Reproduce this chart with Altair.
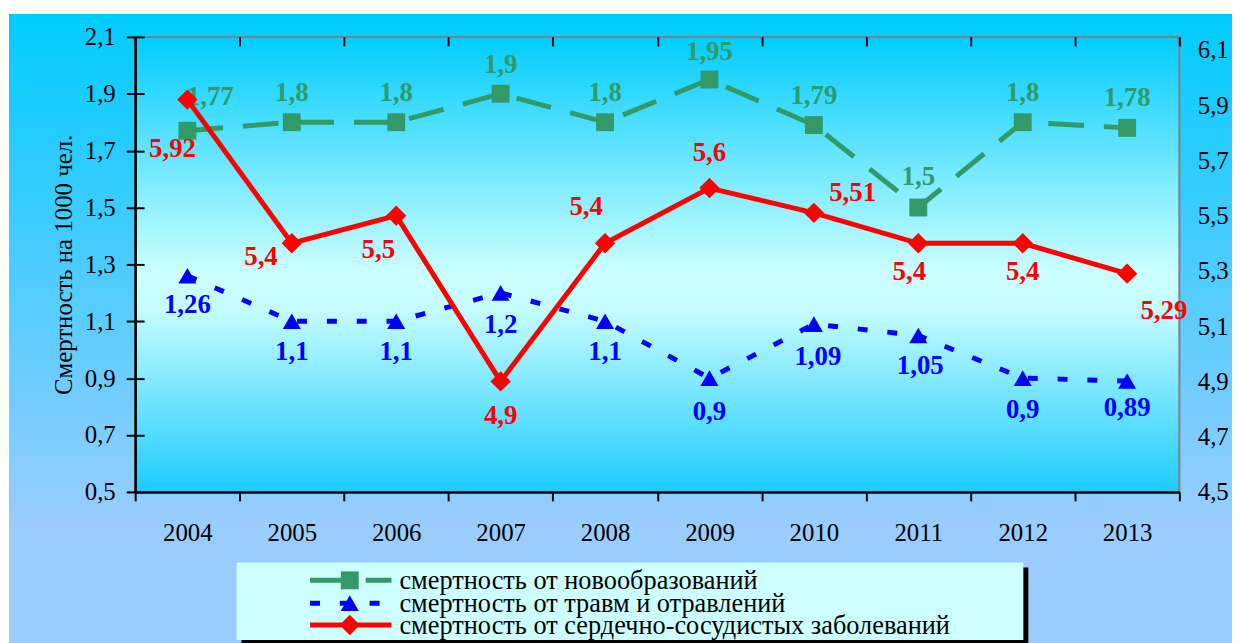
import altair as alt
import pandas as pd

# ---------------- data ----------------
YEARS = [2004, 2005, 2006, 2007, 2008, 2009, 2010, 2011, 2012, 2013]
NEOPLASMS = [1.77, 1.8, 1.8, 1.9, 1.8, 1.95, 1.79, 1.5, 1.8, 1.78]
INJURIES = [1.26, 1.1, 1.1, 1.2, 1.1, 0.9, 1.09, 1.05, 0.9, 0.89]
CARDIO = [5.92, 5.4, 5.5, 4.9, 5.4, 5.6, 5.51, 5.4, 5.4, 5.29]
SERIES = [
    "смертность от новообразований",
    "смертность от травм и отравлений",
    "смертность от сердечно-сосудистых заболеваний",
]
LEFT_TICKS = [0.5, 0.7, 0.9, 1.1, 1.3, 1.5, 1.7, 1.9, 2.1]
RIGHT_TICKS = [4.5, 4.7, 4.9, 5.1, 5.3, 5.5, 5.7, 5.9, 6.1]
Y_TITLE = "Смертность на 1000 чел."

# ---------------- style ----------------
GREEN, BLUE, RED = "#339966", "#0000FF", "#FF0000"
FONT = "'Liberation Serif', 'Times New Roman', 'DejaVu Serif', serif"
W, H = 1051, 458
LABEL_SIZE = 27
# label offsets (dx, dy) in pixels, per point
GREEN_OFF = [(23, -34), (0, -29), (0, -29), (0, -29), (0, -29), (0, -28), (0, -29), (0, -31), (0, -29), (0, -30)]
BLUE_OFF = [(0, 29), (0, 31), (0, 31), (0, 32), (0, 31), (0, 34), (4, 33), (2, 31), (0, 32), (0, 27)]
RED_OFF = [(-15, 50), (-31, 14), (-18, 35), (0, 35), (-19, -36), (0, -35), (39, -20), (-9, 29), (0, 29), (37, 38)]


def to_label(v):
    return str(v).replace(".", ",")


df = pd.DataFrame({
    "year": YEARS,
    "neo": NEOPLASMS,
    "inj": INJURIES,
    "cardio": CARDIO,
    "neo_lbl": [to_label(v) for v in NEOPLASMS],
    "inj_lbl": [to_label(v) for v in INJURIES],
    "cardio_lbl": [to_label(v) for v in CARDIO],
})
one = pd.DataFrame({"d": [0]})

x_ticks = [YEARS[0] - 0.5 + i for i in range(len(YEARS) + 1)]
band = W / len(YEARS)

X = alt.X(
    "year:Q",
    scale=alt.Scale(domain=[x_ticks[0], x_ticks[-1]], nice=False, zero=False),
    axis=alt.Axis(
        values=x_ticks,
        labelExpr=f"datum.value > {YEARS[-1]} ? '' : format(datum.value + 0.5, 'd')",
        labelOffset=band / 2,
        labelFlush=False,
        labelOverlap=False,
        title=None,
        grid=True, gridDash=[9, 3000], gridColor="black", gridWidth=2, gridOpacity=1,
        tickSize=9, tickWidth=2, tickColor="black",
        domainColor="black", domainWidth=2.5,
        labelPadding=20, labelFontSize=25, zindex=1,
    ),
)


def y_left(field):
    return alt.Y(
        f"{field}:Q",
        scale=alt.Scale(domain=[LEFT_TICKS[0], LEFT_TICKS[-1]], nice=False, zero=False),
        axis=alt.Axis(
            orient="left",
            values=LEFT_TICKS,
            labelExpr="replace(format(datum.value, '.1f'), '.', ',')",
            title=Y_TITLE, titleFontSize=25, titleFontWeight="normal", titlePadding=8,
            grid=True, gridDash=[9, 3000], gridColor="black", gridWidth=2, gridOpacity=1,
            tickSize=9, tickWidth=2, tickColor="black",
            domainColor="black", domainWidth=2.5,
            labelPadding=11, labelFontSize=25, zindex=1,
        ),
    )


# right axis: 6,1 label sits slightly below the top of the plot (as in reference)
Y_RIGHT = alt.Y(
    "cardio:Q",
    scale=alt.Scale(domain=[RIGHT_TICKS[0], 6.147], nice=False, zero=False),
    axis=alt.Axis(
        orient="right",
        values=RIGHT_TICKS,
        labelExpr="replace(format(datum.value, '.1f'), '.', ',')",
        title=None, domain=False, ticks=False, tickSize=0, grid=False,
        labelPadding=18, labelFontSize=25, labelAlign="left", zindex=1,
    ),
)

base = alt.Chart(df)

# ---------------- left series ----------------
green_line = base.mark_line(color=GREEN, strokeWidth=5, strokeDash=[36, 20], strokeCap="butt").encode(x=X, y=y_left("neo"))
green_pts = base.mark_point(shape="square", filled=True, size=324, color=GREEN, opacity=1).encode(x=X, y=y_left("neo"))
blue_line = base.mark_line(color=BLUE, strokeWidth=5, strokeDash=[10, 20], strokeCap="butt").encode(x=X, y=y_left("inj"))
blue_pts = base.mark_point(shape="triangle-up", filled=True, size=330, color=BLUE, opacity=1).encode(x=X, y=y_left("inj"))

green_txt = [
    base.transform_filter(alt.datum.year == yr).mark_text(
        font=FONT, fontWeight="bold", fontSize=LABEL_SIZE, color=GREEN, dx=dx, dy=dy, baseline="middle"
    ).encode(x=X, y=y_left("neo"), text="neo_lbl:N")
    for yr, (dx, dy) in zip(YEARS, GREEN_OFF)
]
blue_txt = [
    base.transform_filter(alt.datum.year == yr).mark_text(
        font=FONT, fontWeight="bold", fontSize=LABEL_SIZE, color=BLUE, dx=dx, dy=dy, baseline="middle"
    ).encode(x=X, y=y_left("inj"), text="inj_lbl:N")
    for yr, (dx, dy) in zip(YEARS, BLUE_OFF)
]
left = alt.layer(green_line, blue_line, green_pts, blue_pts, *green_txt, *blue_txt)

# ---------------- right series ----------------
red_line = base.mark_line(color=RED, strokeWidth=5).encode(x=X, y=Y_RIGHT)
red_pts = base.mark_point(shape="diamond", filled=True, size=420, color=RED, opacity=1).encode(x=X, y=Y_RIGHT)
red_txt = [
    base.transform_filter(alt.datum.year == yr).mark_text(
        font=FONT, fontWeight="bold", fontSize=LABEL_SIZE, color=RED, dx=dx, dy=dy, baseline="middle"
    ).encode(x=X, y=Y_RIGHT, text="cardio_lbl:N")
    for yr, (dx, dy) in zip(YEARS, RED_OFF)
]
right = alt.layer(red_line, red_pts, *red_txt)

# ---------------- backgrounds ----------------
outer_grad = alt.Gradient(
    gradient="linear", x1=0, x2=0, y1=0, y2=1,
    stops=[alt.GradientStop(color="#00CCFF", offset=0),
           alt.GradientStop(color="#99CCFF", offset=0.8),
           alt.GradientStop(color="#99CCFF", offset=1)],
)
outer_bg = alt.Chart(one).mark_rect(fill=outer_grad).encode(
    x=alt.value(-127), x2=alt.value(W + 60), y=alt.value(-23), y2=alt.value(H + 160)
)
plot_grad = alt.Gradient(
    gradient="linear", x1=0, x2=0, y1=0, y2=1,
    stops=[alt.GradientStop(color="#00CCFF", offset=0),
           alt.GradientStop(color="#CCFFFF", offset=0.52),
           alt.GradientStop(color="#C4FCFF", offset=0.6),
           alt.GradientStop(color="#1CCBFF", offset=1)],
)
plot_bg = alt.Chart(one).mark_rect(fill=plot_grad, stroke="#808080", strokeWidth=2).encode(
    x=alt.value(0), x2=alt.value(W), y=alt.value(0), y2=alt.value(H)
)

# ---------------- legend ----------------
LX0, LX1, LY0, LY1 = 102, 894, 529, 607
legend = [
    alt.Chart(one).mark_rect(fill="black").encode(
        x=alt.value(LX0 + 5), x2=alt.value(LX1 + 5), y=alt.value(LY0 + 5), y2=alt.value(LY1 + 5)),
    alt.Chart(one).mark_rect(fill="#CCFFFF").encode(
        x=alt.value(LX0), x2=alt.value(LX1), y=alt.value(LY0), y2=alt.value(LY1)),
]
styles = [
    (GREEN, [36, 20], "square", 324),
    (BLUE, [10, 20], "triangle-up", 330),
    (RED, None, "diamond", 420),
]
row_y = [547, 570, 592]
for name, (col, dash, shape, size), ry in zip(SERIES, styles, row_y):
    rule_kw = dict(color=col, strokeWidth=5, strokeCap="butt")
    if dash:
        rule_kw["strokeDash"] = dash
    legend.append(alt.Chart(one).mark_rule(**rule_kw).encode(
        x=alt.value(176), x2=alt.value(258), y=alt.value(ry)))
    legend.append(alt.Chart(one).mark_point(shape=shape, filled=True, size=size, color=col, opacity=1).encode(
        x=alt.value(216), y=alt.value(ry)))
    legend.append(alt.Chart(one).mark_text(font=FONT, fontSize=26.5, color="black", align="left", baseline="middle").encode(
        x=alt.value(266), y=alt.value(ry + 1), text=alt.value(name)))

chart = alt.layer(outer_bg, plot_bg, left, right, *legend).resolve_scale(y="independent").properties(
    width=W, height=H,
    padding={"left": 128, "top": 27, "right": 53, "bottom": 150},
    autosize=alt.AutoSizeParams(type="none"),
    background="white",
).configure_view(stroke=None).configure_axis(
    labelFont=FONT, titleFont=FONT, labelColor="black", titleColor="black"
)

chart.save("out.html", embed_options={"renderer": "svg", "actions": False})
